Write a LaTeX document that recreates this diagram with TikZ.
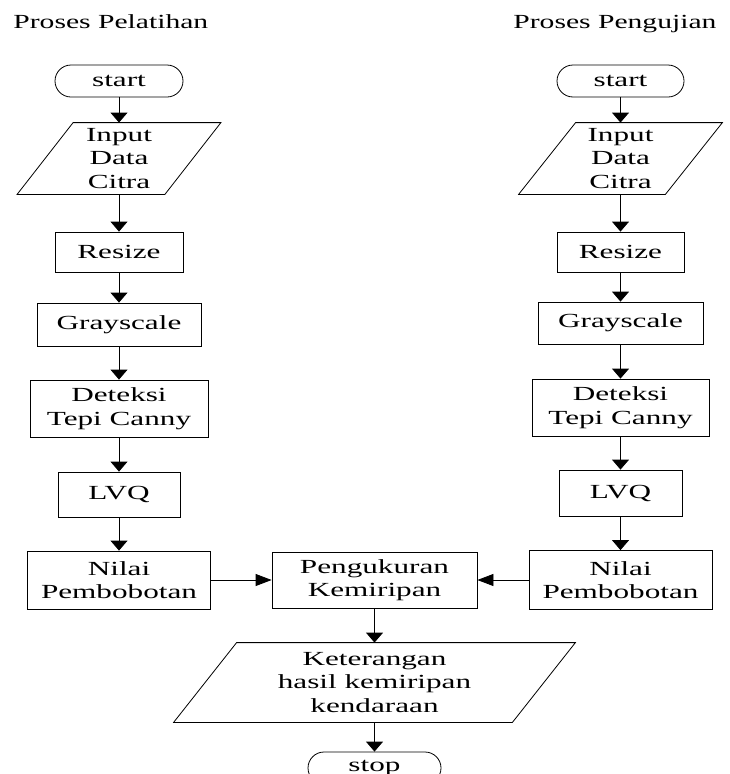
\documentclass[tikz,border=0pt]{standalone}
\usepackage{fontspec}
\setmainfont{Liberation Serif}[FakeStretch=1.56]
\newfontfamily\ttlfont{Liberation Serif}[FakeStretch=1.48]
\usetikzlibrary{arrows.meta}

\begin{document}
\begin{tikzpicture}[x=1pt, y=-1pt, line width=0.8pt,
  font=\fontsize{20}{23.5}\selectfont,
  box/.style 2 args={draw, inner sep=0pt, align=center, minimum width=#1, minimum height=#2},
  term/.style 2 args={box={#1}{#2}, rounded corners=16pt},
  io/.style 2 args={inner sep=0pt, align=center, minimum width=#1, minimum height=#2},
  dn/.style={-{Triangle[width=17pt,length=10pt]}},
  sd/.style={-{Triangle[width=12pt,length=16pt]}}]
\useasboundingbox (0,0) rectangle (730,774);
\clip (0,0) rectangle (730,774);

\node[anchor=base west, inner sep=0pt, font=\fontsize{20}{23.5}\ttlfont] (ttlA) at (13,28) {Proses Pelatihan};
\node[anchor=base west, inner sep=0pt, font=\fontsize{20}{23.5}\ttlfont] (ttlB) at (513,28) {Proses Pengujian};

% training column
\node[term={128}{32}] (stA) at (119,81) {start};
\node[io={147}{71}] (inA) at (119,158.5) {Input\\Data\\Citra};
\node[box={128}{40}] (rsA) at (119,252) {Resize};
\node[box={164}{43}] (gsA) at (119,324.5) {Grayscale};
\node[box={178}{57}] (dtA) at (119,408.5) {Deteksi\\Tepi Canny};
\node[box={122}{45}] (lvA) at (119,494.5) {LVQ};
\node[box={183}{58}] (nlA) at (119,580) {Nilai\\Pembobotan};

% testing column
\node[term={127}{32}] (stB) at (620.5,81) {start};
\node[io={146}{71}] (inB) at (620.5,158.5) {Input\\Data\\Citra};
\node[box={127}{40}] (rsB) at (620.5,252) {Resize};
\node[box={165}{42}] (gsB) at (620.5,323) {Grayscale};
\node[box={177}{57}] (dtB) at (620.5,407.5) {Deteksi\\Tepi Canny};
\node[box={123}{46}] (lvB) at (620.5,493) {LVQ};
\node[box={183}{59}] (nlB) at (620.5,580) {Nilai\\Pembobotan};

% matching
\node[box={205}{56}] (ukur) at (374.5,580) {Pengukuran\\Kemiripan};
\node[io={338}{79}] (ket) at (374.5,682.5) {Keterangan\\hasil kemiripan\\kendaraan};
\node[term={133}{32}] (stop) at (374.5,768) {stop};

\foreach \n/\d in {inA/28, inB/28.5, ket/31.5}
  \draw ([xshift=\d pt]\n.north west) -- ([xshift=\d pt]\n.north east)
     -- ([xshift=-\d pt]\n.south east) -- ([xshift=-\d pt]\n.south west) -- cycle;

\foreach \a/\b in {stA/inA, inA/rsA, rsA/gsA, gsA/dtA, dtA/lvA, lvA/nlA,
                   stB/inB, inB/rsB, rsB/gsB, gsB/dtB, dtB/lvB, lvB/nlB,
                   ukur/ket, ket/stop}
  \draw[dn] (\a) -- (\b);
\draw[sd] (nlA) -- (ukur);
\draw[sd] (nlB) -- (ukur);
\end{tikzpicture}
\end{document}
